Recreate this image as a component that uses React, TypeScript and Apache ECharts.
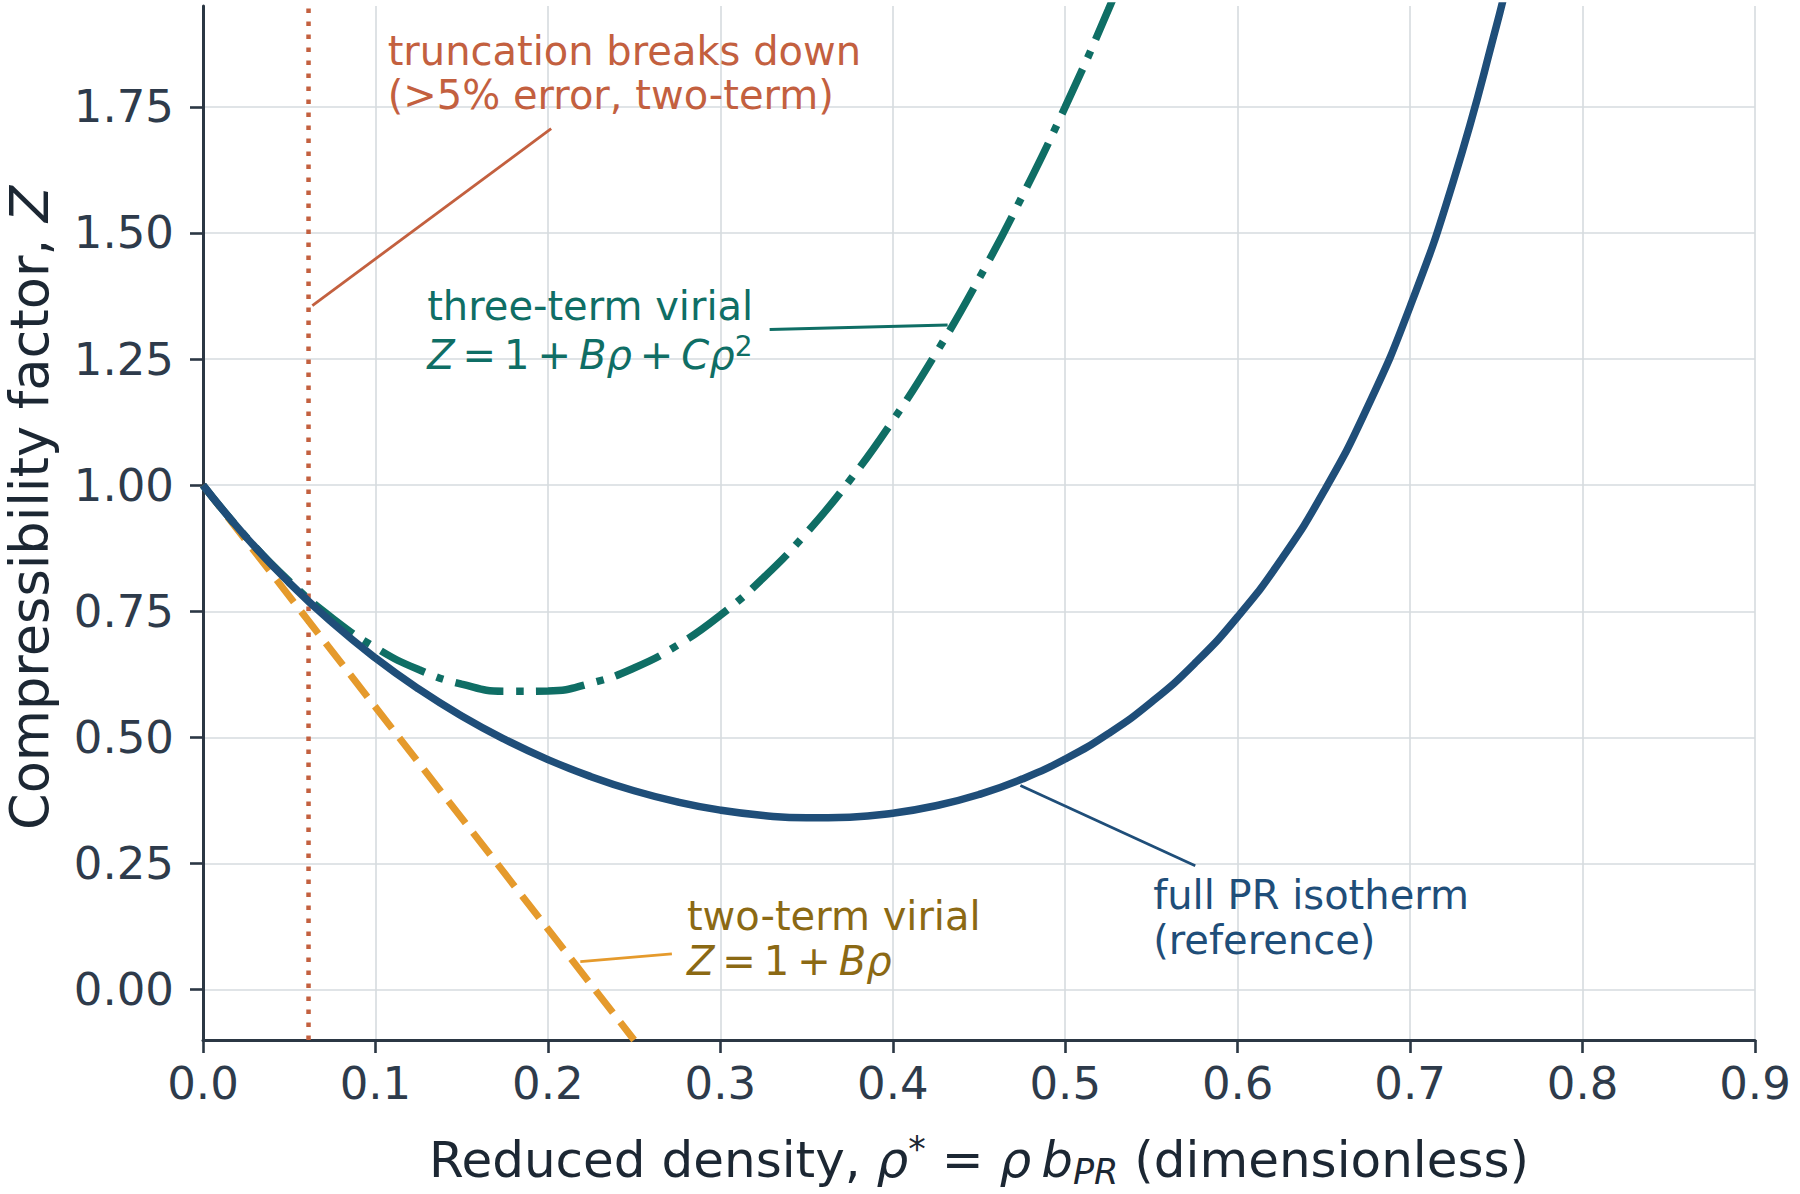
import React, { useEffect, useRef } from "react";
import * as echarts from "echarts";

// ---------- data ----------
const X_MIN = 0;
const X_MAX = 0.9;
const X_STEP = 0.1;
const Y_MIN = -0.1;
const Y_MAX = 1.95;
const yTickValues = [0, 0.25, 0.5, 0.75, 1.0, 1.25, 1.5, 1.75];

// full PR isotherm (reference)
const rhoPR = [
  0, 0.025, 0.05, 0.075, 0.1, 0.125, 0.15, 0.175, 0.2, 0.225, 0.25, 0.275, 0.3,
  0.325, 0.35, 0.375, 0.4, 0.425, 0.45, 0.475, 0.5, 0.525, 0.55, 0.575, 0.6,
  0.625, 0.65, 0.675, 0.7, 0.725, 0.75, 0.76,
];
const zPR = [
  1.0, 0.897, 0.8066, 0.7272, 0.6573, 0.596, 0.5424, 0.4959, 0.4559, 0.4221,
  0.3942, 0.3721, 0.3557, 0.3451, 0.3404, 0.3418, 0.3496, 0.3644, 0.3867,
  0.4173, 0.4571, 0.5075, 0.5699, 0.6463, 0.7391, 0.8515, 0.9876, 1.1528,
  1.3543, 1.6019, 1.9097, 2.0538,
];

// three-term virial
const rho3 = [
  0, 0.025, 0.05, 0.075, 0.1, 0.125, 0.15, 0.175, 0.2, 0.225, 0.25, 0.275, 0.3,
  0.325, 0.35, 0.375, 0.4, 0.425, 0.45, 0.475, 0.5, 0.525, 0.55,
];
const z3 = [
  1.0, 0.8974, 0.8095, 0.7364, 0.678, 0.6344, 0.6055, 0.5914, 0.592, 0.6074,
  0.6375, 0.6824, 0.742, 0.8164, 0.9055, 1.0094, 1.128, 1.2614, 1.4095,
  1.5724, 1.75, 1.9424, 2.1495,
];

// two-term virial
const rho2 = [0, 0.25];
const z2 = [1.0, -0.1];

// breakdown density (>5% error of two-term)
const breakdownRho = 0.0612;

// annotation leaders [rho, Z]
const leaderTrunc = [[0.0634, 1.356], [0.2019, 1.7067]];
const leaderThree = [[0.3286, 1.3087], [0.4318, 1.3178]];
const leaderTwo = [[0.2188, 0.0555], [0.2719, 0.0708]];
const leaderPR = [[0.474, 0.4046], [0.5754, 0.2453]];

// annotation texts: anchor [rho, Z] of left / vertical centre of each line
const truncLines = ["truncation breaks down", "(>5% error, two-term)"];
const truncAnchors = [[0.1071, 1.861], [0.1071, 1.773]];
const threeLines = ["three-term virial", "{i|Z}\u2009=\u20091\u2009+\u2009{i|Bρ}\u2009+\u2009{i|Cρ}{sup|2}"];
const threeAnchors = [[0.13, 1.356], [0.13, 1.258]];
const twoLines = ["two-term virial", "{i|Z}\u2009=\u20091\u2009+\u2009{i|Bρ}"];
const twoAnchors = [[0.2806, 0.1465], [0.2806, 0.0569]];
const prLines = ["full PR isotherm", "(reference)"];
const prAnchors = [[0.551, 0.1868], [0.551, 0.0975]];

const xTitle =
  "Reduced density,\u00a0{i|ρ}{sup|*}\u00a0=\u00a0{i|ρ}\u2009{i|b}{sub|PR}\u00a0(dimensionless)";
const yTitle = "Compressibility factor,\u00a0{i|Z}";

// ---------- styles ----------
const FONT = "DejaVu Sans";
const C_PR = "#1f4e79";
const C_THREE = "#0f6e65";
const C_TWO = "#e59a2c";
const C_TWO_TEXT = "#8b6914";
const C_TRUNC = "#c3603f";
const C_AXIS = "#2b3744";
const C_TICK = "#2e3b4b";
const C_TITLE = "#1c2733";
const C_GRID = "#d6dbdf";

const zip = (xs: number[], ys: number[]) => xs.map((x, i) => [x, ys[i]]);

export default function App() {
  const ref = useRef<HTMLDivElement | null>(null);

  useEffect(() => {
    if (!ref.current) return;
    const chart = echarts.init(ref.current, null, { renderer: "svg" });

    const leader = (data: number[][], color: string, width: number) => ({
      type: "line",
      data,
      showSymbol: false,
      symbol: "none",
      silent: true,
      lineStyle: { color, width, type: "solid" },
      z: 5,
    });

    const option: any = {
      animation: false,
      backgroundColor: "#ffffff",
      grid: { left: 203, right: 45, top: 6, bottom: 154, containLabel: false },
      xAxis: {
        type: "value",
        min: X_MIN,
        max: X_MAX,
        interval: X_STEP,
        axisLine: { show: true, onZero: false, lineStyle: { color: C_AXIS, width: 3 } },
        axisTick: { show: true, length: 13, lineStyle: { color: C_AXIS, width: 2.6 } },
        axisLabel: {
          fontSize: 45,
          color: C_TICK,
          fontFamily: FONT,
          margin: 21,
          showMinLabel: true,
          showMaxLabel: true,
          formatter: (v: number) => v.toFixed(1),
        },
        splitLine: { show: true, lineStyle: { color: C_GRID, width: 1.6 } },
      },
      yAxis: {
        type: "value",
        min: Y_MIN,
        max: Y_MAX,
        axisLine: { show: true, onZero: false, lineStyle: { color: C_AXIS, width: 3 } },
        axisTick: {
          show: true,
          length: 13,
          customValues: yTickValues,
          lineStyle: { color: C_AXIS, width: 2.6 },
        },
        axisLabel: {
          customValues: yTickValues,
          fontSize: 45,
          color: C_TICK,
          fontFamily: FONT,
          margin: 29,
          formatter: (v: number) => v.toFixed(2),
        },
        splitLine: { show: true, lineStyle: { color: C_GRID, width: 1.6 } },
      },
      series: [
        {
          type: "line",
          name: "breakdown",
          data: [[breakdownRho, Y_MIN], [breakdownRho, Y_MAX]],
          showSymbol: false,
          symbol: "none",
          lineStyle: { color: C_TRUNC, width: 4.5, type: [4.5, 8.5] },
          z: 2,
        },
        {
          type: "line",
          name: "two-term",
          data: zip(rho2, z2),
          showSymbol: false,
          symbol: "none",
          lineStyle: { color: C_TWO, width: 7, type: [28, 12] },
          z: 3,
        },
        {
          type: "line",
          name: "three-term",
          data: zip(rho3, z3),
          smooth: 0.5,
          showSymbol: false,
          symbol: "none",
          lineStyle: { color: C_THREE, width: 7.5, type: [49, 12.5, 7.5, 12.5] },
          z: 3,
        },
        {
          type: "line",
          name: "PR",
          data: zip(rhoPR, zPR),
          smooth: 0.5,
          showSymbol: false,
          symbol: "none",
          lineStyle: { color: C_PR, width: 7.5 },
          z: 4,
        },
        leader(leaderTrunc, C_TRUNC, 2.8),
        leader(leaderThree, C_THREE, 3),
        leader(leaderTwo, C_TWO, 2.8),
        leader(leaderPR, C_PR, 2.8),
      ],
    };
    chart.setOption(option);

    const px = (p: number[]) => chart.convertToPixel({ gridIndex: 0 }, p) as number[];

    const annFont = 40;
    const richAnn = (color: string) => ({
      n: { fontSize: annFont, fontFamily: FONT, fill: color, lineHeight: 46 },
      i: { fontSize: annFont, fontFamily: FONT, fontStyle: "italic", fill: color, lineHeight: 46 },
      sup: { fontSize: 28, fontFamily: FONT, fill: color, lineHeight: 28, verticalAlign: "top" },
    });

    const textEls: any[] = [];
    const addLines = (lines: string[], anchors: number[][], color: string) => {
      lines.forEach((t, k) => {
        const [x, y] = px(anchors[k]);
        textEls.push({
          type: "text",
          x,
          y,
          silent: true,
          z: 10,
          style: {
            text: t,
            fontSize: annFont,
            fontFamily: FONT,
            fill: color,
            align: "left",
            verticalAlign: "middle",
            lineHeight: 46,
            rich: richAnn(color),
          },
        });
      });
    };
    addLines(truncLines, truncAnchors, C_TRUNC);
    addLines(threeLines, threeAnchors, C_THREE);
    addLines(twoLines, twoAnchors, C_TWO_TEXT);
    addLines(prLines, prAnchors, C_PR);

    const [cx] = px([(X_MIN + X_MAX) / 2, 0]);
    const [, yTop] = px([0, Y_MAX]);
    const [, yBot] = px([0, Y_MIN]);
    const titleF = 50;
    textEls.push({
      type: "text",
      x: cx,
      y: 1160,
      silent: true,
      style: {
        text: xTitle,
        fontSize: titleF,
        fontFamily: FONT,
        fill: C_TITLE,
        align: "center",
        verticalAlign: "middle",
        lineHeight: 58,
        rich: {
          i: { fontSize: titleF, fontFamily: FONT, fontStyle: "italic", fill: C_TITLE, lineHeight: 58 },
          sup: { fontSize: 35, fontFamily: FONT, fill: C_TITLE, lineHeight: 34, verticalAlign: "top" },
          sub: {
            fontSize: 35,
            fontFamily: FONT,
            fontStyle: "italic",
            fill: C_TITLE,
            lineHeight: 34,
            verticalAlign: "bottom",
          },
        },
      },
    });
    const yF = 52.5;
    textEls.push({
      type: "text",
      x: 29,
      y: (yTop + yBot) / 2 - 15,
      rotation: Math.PI / 2,
      silent: true,
      style: {
        text: yTitle,
        fontSize: yF,
        fontFamily: FONT,
        fill: C_TITLE,
        align: "center",
        verticalAlign: "middle",
        lineHeight: 60,
        rich: {
          i: { fontSize: yF, fontFamily: FONT, fontStyle: "italic", fill: C_TITLE, lineHeight: 60 },
        },
      },
    });

    chart.setOption({ graphic: textEls });

    return () => {
      chart.dispose();
    };
  }, []);

  return (
    <div
      ref={ref}
      style={{
        position: "fixed",
        left: 0,
        top: 0,
        width: 1800,
        height: 1194,
        background: "#ffffff",
      }}
    />
  );
}
